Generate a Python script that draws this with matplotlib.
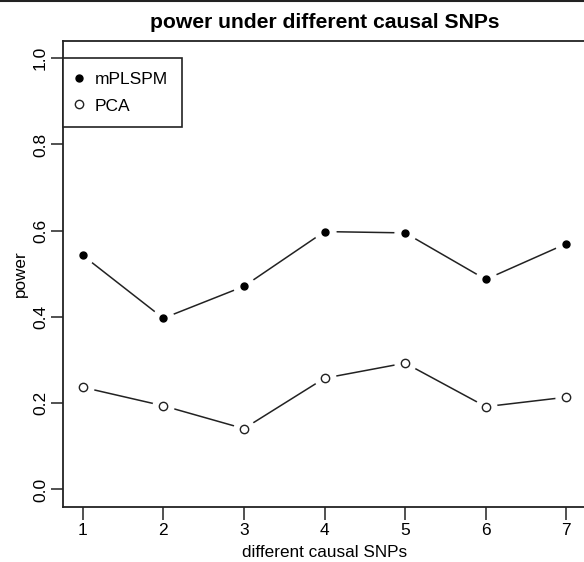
import matplotlib
matplotlib.use("Agg")
import matplotlib.pyplot as plt
from matplotlib.lines import Line2D

plt.rcParams['font.family'] = ['Liberation Sans', 'DejaVu Sans']

snps = [1, 2, 3, 4, 5, 6, 7]
mplspm = [0.543, 0.397, 0.471, 0.598, 0.595, 0.487, 0.570]
pca = [0.237, 0.194, 0.141, 0.258, 0.293, 0.192, 0.214]
yticks = [0.0, 0.2, 0.4, 0.6, 0.8, 1.0]
ytick_labels = ["0.0", "0.2", "0.4", "0.6", "0.8", "1.0"]

W, H = 584, 562
fig = plt.figure(figsize=(W / 100, H / 100), dpi=100)
x0, x1 = 63.3, 585.7
ytop, ybot = 41, 506.7
ax = fig.add_axes([x0 / W, (H - ybot) / H, (x1 - x0) / W, (ybot - ytop) / H])
ax.set_xlim(0.76, 7.24)
ax.set_ylim(-0.04, 1.04)

lw = 1.1
for vals, filled, lab in [(mplspm, True, "mPLSPM"), (pca, False, "PCA")]:
    ax.plot(snps, vals, color='#222222', lw=lw, zorder=1)
    ax.plot(snps, vals, ls='none', marker='o', ms=15, mfc='white', mec='white', zorder=2)
    if filled:
        ax.plot(snps, vals, ls='none', marker='o', ms=5, mfc='black', mec='black', zorder=3, label=lab)
    else:
        ax.plot(snps, vals, ls='none', marker='o', ms=6, mfc='white', mec='#222222', mew=1.0, zorder=3, label=lab)

ax.set_xticks(snps)
ax.set_xticklabels([str(s) for s in snps])
ax.set_yticks(yticks)
ax.set_yticklabels(ytick_labels, rotation=90, va='center')
ax.tick_params(axis='both', direction='out', length=9, width=1.1, labelsize=12.5, color='#222222')
ax.tick_params(axis='x', pad=3)
ax.tick_params(axis='y', pad=2)
for s in ax.spines.values():
    s.set_linewidth(1.3)
    s.set_color('#222222')

ax.set_xlabel("different causal SNPs", fontsize=12.3, labelpad=5)
ax.set_ylabel("power", fontsize=12.3, labelpad=4)
ax.set_title("power under different causal SNPs", fontsize=15.2, fontweight='bold', pad=9)

# legend box anchored at y = 1.0 on left axis
yax = (1.0 - (-0.04)) / 1.08
leg = ax.legend(loc='upper left', bbox_to_anchor=(0, yax), borderaxespad=0,
                fancybox=False, framealpha=1, edgecolor='#222222', fontsize=12.5,
                handlelength=0.3, handletextpad=0.75, borderpad=0.78, labelspacing=0.66)
leg.get_frame().set_linewidth(1.2)

fig.add_artist(Line2D([0, 1], [1 - 1.2 / H, 1 - 1.2 / H], color='#222222', lw=1.5, transform=fig.transFigure))

fig.savefig("out.png", dpi=100)
